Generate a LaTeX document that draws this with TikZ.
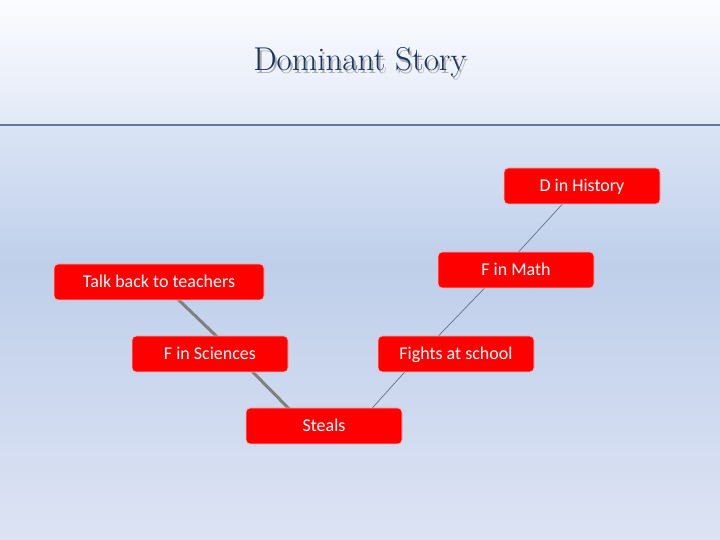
\documentclass[tikz,border=0pt]{standalone}
\usepackage{fontspec}
\setsansfont{Carlito}
\usetikzlibrary{backgrounds}
\definecolor{bgtop}{RGB}{251,252,254}
\definecolor{bgline}{RGB}{226,233,247}
\definecolor{bgbelow}{RGB}{219,228,246}
\definecolor{bgmid}{RGB}{191,207,234}
\definecolor{bgbot}{RGB}{221,227,244}
\definecolor{rulecol}{RGB}{94,122,153}
\definecolor{titlecol}{RGB}{28,52,90}
\definecolor{shadowcol}{RGB}{170,172,178}
\definecolor{boxred}{RGB}{255,0,0}
\definecolor{boxedge}{RGB}{255,185,185}
\definecolor{thickgray}{RGB}{128,128,128}
\definecolor{thingray}{RGB}{100,112,130}
\tikzset{
  redbox/.style={draw=boxedge, line width=0.8pt, fill=boxred, rounded corners=4pt,
    minimum width=156pt, minimum height=36pt, inner sep=0pt,
    text=white, font=\sffamily\fontsize{18pt}{20pt}\selectfont,
    text height=12pt, text depth=0pt},
  thickline/.style={draw=thickgray, line width=3pt},
  thinline/.style={draw=thingray, line width=0.7pt},
}
\begin{document}
\begin{tikzpicture}[x=1pt,y=1pt]
\useasboundingbox (0,0) rectangle (720,540);
% background
\begin{scope}[on background layer]
\shade[top color=bgtop, bottom color=bgline] (0,414) rectangle (720,540);
\shade[top color=bgbelow, bottom color=bgmid] (0,275) rectangle (720,414.5);
\shade[top color=bgmid, bottom color=bgbot] (0,0) rectangle (720,275.5);
\draw[rulecol, line width=2pt] (0,414.5) -- (720,414.5);
\end{scope}
% title
\node (title) [text=titlecol, font=\fontsize{33pt}{35pt}\selectfont] at (360,476)
  {\makebox[0pt][l]{\kern2pt\raisebox{-3pt}{\textcolor{shadowcol}{Dominant Story}}}Dominant Story};
% boxes
\node[redbox] (history) at (582,354) {D in History};
\node[redbox] (math) at (516,270) {F in Math};
\node[redbox, minimum width=210pt] (talk) at (159,258) {Talk back to teachers};
\node[redbox] (sci) at (210,186) {F in Sciences};
\node[redbox] (fights) at (456,186) {Fights at school};
\node[redbox] (steals) at (324,114) {Steals};
% connectors (behind the boxes)
\begin{scope}[on background layer]
\draw[thickline] ([xshift=1pt]talk.center) -- ([xshift=25pt]sci.center);
\draw[thickline] ([xshift=25pt]sci.center) -- ([xshift=-18pt]steals.center);
\draw[thinline] ([xshift=32pt]steals.center) -- ([xshift=-35pt]fights.center);
\draw[thinline] ([xshift=-35pt]fights.center) -- ([xshift=-14pt]math.center);
\draw[thinline] ([xshift=-14pt]math.center) -- ([xshift=-3pt]history.center);
\end{scope}
\end{tikzpicture}
\end{document}
